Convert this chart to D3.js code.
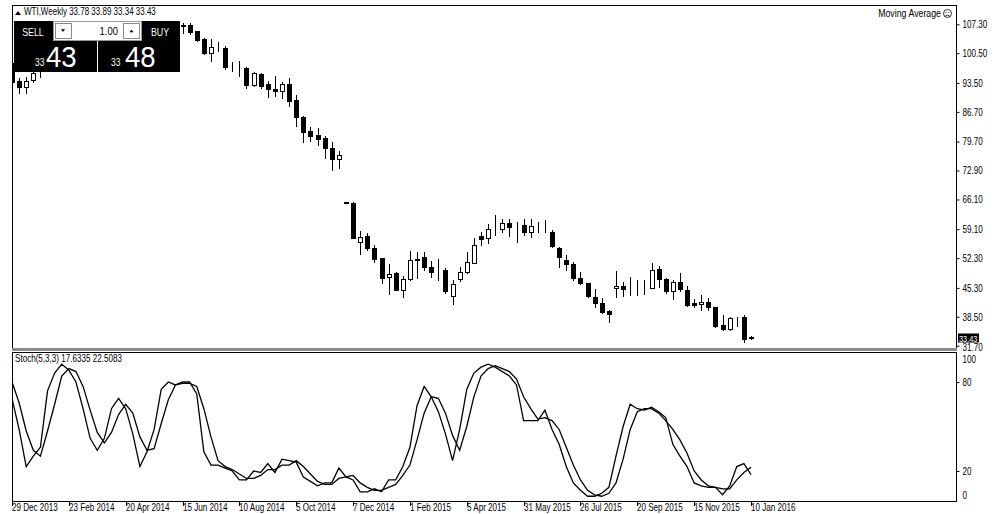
<!DOCTYPE html>
<html><head><meta charset="utf-8">
<script src="https://cdn.jsdelivr.net/npm/d3@7"></script>
<style>
body{margin:0;background:#fff}
text{font-family:"Liberation Sans",Arial,sans-serif;}
</style>
</head><body>
<svg id="c" width="1000" height="514"></svg>
<script>
// ---------------- DATA ----------------
const symbolHeader = "WTI,Weekly  33.78 33.89 33.34 33.43";
const stochHeader = "Stoch(5,3,3) 17.6335 22.5083";
const indicatorName = "Moving Average";

// weekly OHLC, bar 0 = 29 Dec 2013 ... bar 104 = 10 Jan 2016
const opens = [98.2,93.97,92.55,94.2,96.4,97.4,99.9,100.3,102.2,102.6,102.6,98.9,99.5,101.7,101.1,103.7,104.3,100.6,99.8,99.9,102.0,104.3,102.7,102.7,
 106.8,107.14,105.73,103.85,100.55,101.73,101.73,97.4,97.3,97.02,93.02,95.61,93.26,92.08,91.61,93.26,89.5,85.5,82.2,81.26,80.56,78.2,75.62,
 65.5,65.27,56.09,57.5,54.68,52.33,47.86,48.8,44.8,47.39,51.9,52.56,50.21,49.2,49.51,43.39,47.39,49.03,51.15,57.5,57.03,59.1,59.15,60.56,60.1,60.09,58.44,59.6,59.4,
 58.44,54.68,51.86,50.92,47.62,46.45,43.15,41.74,39.86,45.27,45.74,45.0,45.2,45.4,45.27,49.74,47.39,44.57,46.68,44.8,41.74,41.6,41.98,40.8,36.57,35.63,38.3,38.45,33.78];
const highs = [98.6,94.67,94.91,96.08,98.2,100.1,100.8,103.8,103.0,105.0,102.9,100.3,101.8,101.9,104.2,104.9,104.6,101.9,101.2,102.4,104.5,104.7,104.4,107.7,
 107.6,107.61,105.8,104.1,103.85,103.14,102.1,98.44,98.67,97.2,96.08,95.85,93.97,95.14,93.73,94.67,90.67,85.73,83.14,82.91,81.03,79.62,77.5,
 65.6,65.4,58.68,58.21,55.39,52.4,50.92,49.0,48.09,53.97,53.74,53.74,51.62,52.09,49.98,47.15,50.21,53.74,57.03,58.44,60.33,62.44,61.5,61.5,60.8,61.5,61.5,60.8,61.27,
 58.9,54.92,53.03,51.39,49.03,46.5,45.04,42.92,40.1,49.27,46.68,47.86,47.15,47.15,51.15,50.45,47.62,47.15,48.8,45.74,42.68,43.62,42.92,40.9,38.92,38.45,38.45,38.92,33.89];
const lows = [93.5,91.14,91.14,93.73,94.91,96.8,98.9,100.0,101.1,101.0,97.7,98.0,98.9,98.5,100.4,102.8,100.6,98.7,98.8,99.5,101.8,102.1,102.0,102.6,
 105.2,105.02,103.4,100.3,98.67,101.02,96.9,96.32,95.14,92.32,92.7,92.32,90.2,90.44,89.97,88.08,83.38,79.62,79.85,78.91,75.85,73.03,73.5,
 65.2,57.0,53.27,54.21,51.39,46.45,43.86,44.7,43.15,47.15,47.62,49.51,47.86,47.15,44.1,41.51,46.92,48.8,51.15,55.39,55.86,57.74,58.44,57.5,56.09,57.74,57.27,58.44,58.44,
 54.92,50.21,49.51,47.15,46.3,43.2,40.8,39.39,37.27,43.15,43.39,43.62,43.62,43.86,45.2,45.51,44.1,42.68,44.57,41.04,40.8,40.1,40.1,36.2,35.39,35.39,36.33,32.57,33.34];
const closes = [93.73,92.55,93.97,95.85,97.5,99.9,100.3,102.2,102.6,102.6,98.9,99.5,101.7,101.1,103.7,104.3,100.6,99.8,99.9,102.0,104.3,102.7,102.7,106.9,
 107.2,105.49,103.61,100.55,101.96,101.8,97.26,97.5,97.2,93.02,95.85,92.79,92.08,91.61,93.26,89.26,85.5,81.97,81.03,80.32,78.2,75.62,76.56,
 65.3,57.03,57.27,54.68,52.09,47.62,48.56,44.8,47.39,51.86,52.0,50.21,49.03,49.3,44.57,46.21,49.03,51.39,55.39,56.8,59.15,59.2,60.56,59.62,60.0,58.44,59.86,59.7,59.5,
 55.15,52.56,50.92,47.62,46.45,43.39,41.74,39.63,39.15,45.74,45.04,45.1,45.3,45.5,49.51,47.39,44.57,46.68,45.04,41.27,41.27,41.9,40.8,36.33,35.63,38.21,38.2,33.27,33.43];

// Stochastic %K (main) and %D (signal), read per bar
const stochMain = [69,48,23,30,36,74,86,92,88,80,62,42,34,42,62,69,62,45,23,33,48,75,80,78,80,80,72,33,24,24,22,20,14,14,20,19,25,19,28,27,26,16,13,10,12,12,22,16,14,6,6,8,6,14,14,23,36,64,77,70,60,45,27,48,75,86,90,92,90,87,84,78,54,54,54,61,48,38,23,12,7,3,3,5,9,30,50,65,62,61,63,60,56,38,30,23,12,10,9,9,4,10,23,25,17.6335];
const stochSignal = [80,66,47,34,30,47,65,84,89,87,77,61,46,39,46,58,65,59,43,34,35,52,68,78,79,79,77,62,43,27,23,21,18,15,15,17,21,21,24,24,27,23,18,13,11,11,15,16,17,12,9,7,7,9,11,17,24,41,59,70,69,59,44,34,50,70,84,89,91,89,87,82,70,62,55,56,54,48,36,24,14,7,4,3,5,12,28,48,60,62,62,59,54,48,41,32,20,14,10,9,8,8,14,19,22.5083];

const dateLabels = ["29 Dec 2013","23 Feb 2014","20 Apr 2014","15 Jun 2014","10 Aug 2014","5 Oct 2014","7 Dec 2014","1 Feb 2015","5 Apr 2015","31 May 2015","26 Jul 2015","20 Sep 2015","15 Nov 2015","10 Jan 2016"];
const dateLabelBars = [0,8,16,24,32,40,48,56,64,72,80,88,96,104];
const priceTicks = [107.30,100.50,93.50,86.70,79.70,72.90,66.10,59.10,52.30,45.30,38.50,31.70];
const stochTicks = [100,80,20,0];
const lastPrice = 33.43;
const bid = ["33","43"], ask = ["33","48"], lot = "1.00";

// ---------------- LAYOUT ----------------
const SX = 0.81; // horizontal squeeze to mimic the terminal's narrow font
const svg = d3.select("#c");
const L = 12, R = 956, mainTop = 5, mainBot = 349, stTop = 352, stBot = 501;
const n = closes.length;
const x = d3.scaleLinear().domain([0, 104]).range([12, 751]);
const y = d3.scaleLinear().domain([31.7, 107.3]).range([345.7, 24.3]);
const ys = d3.scaleLinear().domain([0, 100]).range([500.7, 352.3]);

function ntext(parent, tx, ty, str, size, opt = {}) {
  const g = parent.append("g").attr("transform", `translate(${tx},${ty}) scale(${opt.sx || SX},1)`);
  const t = g.append("text").attr("x",0).attr("y",0).attr("font-size",size).attr("fill",opt.fill || "#000")
    .attr("text-anchor", opt.anchor || "start").text(str);
  if (opt.family) t.attr("font-family", opt.family);
  if (opt.weight) t.attr("font-weight", opt.weight);
  return t;
}

const defs = svg.append("defs");
defs.append("clipPath").attr("id","cm").append("rect").attr("x",L+0.5).attr("y",mainTop+0.5).attr("width",R-L-1).attr("height",mainBot-mainTop-1);
defs.append("clipPath").attr("id","cs").append("rect").attr("x",L+0.5).attr("y",stTop+0.5).attr("width",R-L-1).attr("height",stBot-stTop-1);

// frames
svg.append("rect").attr("x",L+0.5).attr("y",mainTop+0.5).attr("width",R-L).attr("height",mainBot-mainTop-1).attr("fill","none").attr("stroke","#000");
svg.append("rect").attr("x",L).attr("y",mainBot-1).attr("width",R-L+1).attr("height",3).attr("fill","#8c8c8c");
svg.append("rect").attr("x",L+0.5).attr("y",stTop+0.5).attr("width",R-L).attr("height",stBot-stTop).attr("fill","none").attr("stroke","#000");

// candles
const gc = svg.append("g").attr("clip-path","url(#cm)");
const idx = d3.range(n);
const cx = i => Math.round(x(i));
gc.selectAll("line.w").data(idx).join("line").attr("class","w")
  .attr("x1", i=>cx(i)+0.5).attr("x2", i=>cx(i)+0.5)
  .attr("y1", i=>Math.round(y(highs[i]))).attr("y2", i=>Math.round(y(lows[i]))+1)
  .attr("stroke","#000").attr("stroke-width",1);
gc.selectAll("rect.b").data(idx).join("rect").attr("class","b")
  .attr("x", i=>cx(i)-1.5).attr("width",4)
  .attr("y", i=>Math.round(y(Math.max(opens[i],closes[i])))+0.5)
  .attr("height", i=>Math.max(0, Math.round(y(Math.min(opens[i],closes[i]))) - Math.round(y(Math.max(opens[i],closes[i])))))
  .attr("fill", i=>closes[i] < opens[i] ? "#000" : "#fff")
  .attr("stroke","#000").attr("stroke-width",1);

// price axis
const ay = d3.axisRight(y).tickValues(priceTicks).tickSize(3).tickPadding(3).tickFormat(d3.format(".2f"));
const gA = svg.append("g").attr("transform",`translate(${R+0.5},0)`).call(ay);
gA.select(".domain").remove();
gA.selectAll("line").attr("stroke","#000");
gA.selectAll("text").attr("font-size",10).attr("fill","#000").attr("font-family",'"Liberation Sans",Arial,sans-serif')
  .attr("x", 6/SX).attr("transform",`scale(${SX},1)`)
  .attr("dy", d => d===31.7 ? "0.45em" : "0.32em");
// last price box
svg.append("rect").attr("x",R+2).attr("y",Math.round(y(lastPrice))-4.5).attr("width",21).attr("height",9).attr("fill","#000");
ntext(svg, R+3, Math.round(y(lastPrice))+3.5, d3.format(".2f")(lastPrice), 9, {fill:"#fff", sx:0.82});

// stochastic
const gs = svg.append("g").attr("clip-path","url(#cs)");
const ln = d3.line().x((d,i)=>x(i)).y(d=>ys(d));
gs.append("path").datum(stochSignal).attr("d",ln).attr("fill","none").attr("stroke","#000").attr("stroke-width",1.3);
gs.append("path").datum(stochMain).attr("d",ln).attr("fill","none").attr("stroke","#000").attr("stroke-width",1.3);

const as = d3.axisRight(ys).tickValues(stochTicks).tickSize(3).tickPadding(3);
const gS = svg.append("g").attr("transform",`translate(${R+0.5},0)`).call(as);
gS.select(".domain").remove();
gS.selectAll("line").attr("stroke","#000");
gS.selectAll("text").attr("font-size",10).attr("fill","#000").attr("font-family",'"Liberation Sans",Arial,sans-serif')
  .attr("x", 6/SX).attr("transform",`scale(${SX},1)`)
  .attr("dy", d => d===100 ? "1.05em" : d===0 ? "-0.25em" : "0.32em");
gS.selectAll(".tick").filter(d=>d===100||d===0).select("line").remove();

// date axis
const gx = svg.append("g");
gx.selectAll("line").data(dateLabelBars).join("line")
  .attr("x1",i=>cx(i)+0.5).attr("x2",i=>cx(i)+0.5).attr("y1",stBot+1).attr("y2",stBot+5).attr("stroke","#000");
dateLabelBars.forEach((b,k) => ntext(gx, cx(b), 511, dateLabels[k], 10));

// headers
svg.append("path").attr("d","M15,15 L18,11 L21,15 Z").attr("fill","#000");
ntext(svg, 24, 15, symbolHeader, 10, {sx:0.8});
ntext(svg, 941, 17, indicatorName, 10, {anchor:"end", sx:0.88});
svg.append("circle").attr("cx",947.5).attr("cy",13.5).attr("r",4).attr("fill","none").attr("stroke","#000").attr("stroke-width",0.8);
svg.append("path").attr("d","M945.5,12.5h1 M948.5,12.5h1 M945.3,16 q2.2,-1.6 4.4,0").attr("fill","none").attr("stroke","#000").attr("stroke-width",0.8);
ntext(svg, 15, 362, stochHeader, 10);

// one-click trading panel
const gp = svg.append("g");
gp.append("rect").attr("x",14).attr("y",21).attr("width",166).attr("height",51).attr("fill","#000");
gp.append("rect").attr("x",53.5).attr("y",21.5).attr("width",88).attr("height",19).attr("fill","#fff").attr("stroke","#9a9a9a");
gp.append("rect").attr("x",55.5).attr("y",23.5).attr("width",16).attr("height",15).attr("fill","#fff").attr("stroke","#8a8a8a");
gp.append("rect").attr("x",123.5).attr("y",23.5).attr("width",16).attr("height",15).attr("fill","#fff").attr("stroke","#8a8a8a");
gp.append("path").attr("d","M61.5,29.5 h3 l-1.5,2 z").attr("fill","#000").attr("stroke","#000").attr("stroke-width",0.6);
gp.append("path").attr("d","M130,32 h3 l-1.5,-2 z").attr("fill","#000").attr("stroke","#000").attr("stroke-width",0.6);
ntext(gp, 118, 35, lot, 11, {anchor:"end", sx:0.86});
ntext(gp, 33, 35.5, "SELL", 11, {anchor:"middle", fill:"#fff", sx:0.8});
ntext(gp, 160, 35.5, "BUY", 11, {anchor:"middle", fill:"#fff", sx:0.8});
gp.append("line").attr("x1",97.5).attr("x2",97.5).attr("y1",41).attr("y2",72).attr("stroke","#fff");
ntext(gp, 35, 66, bid[0], 10, {fill:"#fff", sx:0.85});
ntext(gp, 46, 66.5, bid[1], 30, {fill:"#fff", sx:0.92, family:"Lato, 'Open Sans', sans-serif", weight:300});
ntext(gp, 111, 66, ask[0], 10, {fill:"#fff", sx:0.85});
ntext(gp, 125, 66.5, ask[1], 30, {fill:"#fff", sx:0.92, family:"Lato, 'Open Sans', sans-serif", weight:300});
</script>
</body></html>
